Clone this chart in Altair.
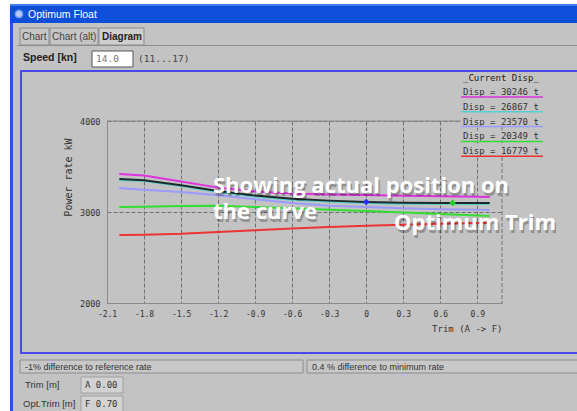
import altair as alt
import pandas as pd

# ---------------------------------------------------------------- data
# Trim positions [m] at which the power-rate curves are tabulated (A -> F)
trim = [-2.0, -1.8, -1.5, -1.2, -0.9, -0.6, -0.3, 0.0, 0.3, 0.6, 0.9, 1.0]

# Power rate [kW] per displacement at 14.0 kn
disp_labels = ["Disp = 30246 t", "Disp = 26867 t", "Disp = 23570 t",
               "Disp = 20349 t", "Disp = 16779 t"]
disp_colors = ["#dd33dd", "#55d0d0", "#9a9aff", "#33dd33", "#ee3333"]
power_30246 = [3418, 3400, 3335, 3268, 3225, 3203, 3193, 3187, 3178, 3172, 3167, 3165]
power_26867 = [3353, 3340, 3285, 3220, 3170, 3135, 3115, 3100, 3092, 3090, 3089, 3089]
power_23570 = [3264, 3245, 3220, 3185, 3140, 3100, 3070, 3055, 3040, 3030, 3024, 3022]
power_20349 = [3055, 3058, 3066, 3068, 3055, 3040, 3025, 3011, 2995, 2978, 2962, 2956]
power_16779 = [2747, 2750, 2760, 2780, 2800, 2818, 2835, 2850, 2860, 2870, 2880, 2883]

# Curve for the current displacement
power_current = [3363, 3350, 3295, 3230, 3180, 3145, 3125, 3110, 3102, 3100, 3099, 3099]

# Actual and optimum trim on the current curve
current_trim, current_power = 0.0, 3110
opt_trim, opt_power = 0.7, 3100

x_ticks = [-2.1, -1.8, -1.5, -1.2, -0.9, -0.6, -0.3, 0.0, 0.3, 0.6, 0.9]
y_ticks = [2000, 3000, 4000]

# ---------------------------------------------------------------- layout
W, H = 577, 411          # window size
OX, OY = 107, 121        # plot origin inside the window
PW, PH = 395, 182        # plot size
GREY = "#c3c3c3"
MONO = "DejaVu Sans Mono"
SANS = "Liberation Sans"

x_enc = alt.X(
    "trim:Q",
    scale=alt.Scale(domain=[-2.1, 1.1], nice=False, zero=False),
    axis=alt.Axis(
        values=x_ticks,
        labelExpr="datum.value == 0 ? '0' : replace(format(datum.value, '.1f'), '\u2212', '-')",
        labelFont=MONO, labelFontSize=8, labelColor="#333333", labelPadding=7,
        labelFlush=False, labelOverlap=False, ticks=False,
        domainColor="#8a8a8a", domainWidth=1,
        grid=True, gridColor="#707070", gridDash=[4, 2], gridWidth=1,
        title="Trim (A -> F)", titleFont=MONO, titleFontSize=9,
        titleFontWeight="normal", titleColor="#333333",
        titleX=PW, titleY=25, titleAlign="right", titleBaseline="middle",
    ),
)
y_enc = alt.Y(
    "power:Q",
    scale=alt.Scale(domain=[2000, 4000], nice=False, zero=False),
    axis=alt.Axis(
        values=y_ticks, format="d",
        labelFont=MONO, labelFontSize=8.5, labelColor="#333333", labelPadding=7,
        labelFlush=False, labelOverlap=False, ticks=False,
        domainColor="#8a8a8a", domainWidth=1,
        grid=True, gridColor="#707070", gridDash=[4, 2], gridWidth=1,
        title="Power rate   kW", titleFont=MONO, titleFontSize=10,
        titleFontWeight="normal", titleColor="#333333",
        titleX=-39, titleY=56, titleAngle=270,
        titleAlign="center", titleBaseline="middle",
    ),
)


def rects(rows):
    """Flat window decorations given in window pixel coordinates."""
    df = pd.DataFrame(rows, columns=["x1", "y1", "x2", "y2", "fill", "stroke", "sw"])
    df[["x1", "x2"]] -= OX
    df[["y1", "y2"]] -= OY
    return alt.Chart(df).mark_rect().encode(
        x=alt.X("x1:Q", scale=None, axis=None), x2="x2",
        y=alt.Y("y1:Q", scale=None, axis=None), y2="y2",
        fill=alt.Fill("fill:N", scale=None),
        stroke=alt.Stroke("stroke:N", scale=None),
        strokeWidth=alt.StrokeWidth("sw:Q", scale=None),
    )


def label(x, y, text, **kw):
    kw.setdefault("align", "left")
    kw.setdefault("baseline", "middle")
    return alt.Chart(pd.DataFrame({"t": [text]})).mark_text(**kw).encode(
        x=alt.value(x - OX), y=alt.value(y - OY), text="t:N")


T = "transparent"
layers = []

# window frame, title bar, tabs, input fields
layers.append(rects([
    (0, 0, W, 4, "#ffffff", T, 0),
    (0, 0, 10, H, "#ffffff", T, 0),
    (10, 4, W, 23, "#0d4fd8", T, 0),
    (10, 4, W, 6, "#3f7cf0", T, 0),
    (10, 23, 13, H, "#2b50e2", T, 0),
    (17, 45, W, 46, "#8e8e8e", T, 0),
    (20, 28, 49, 45, "#c6c6c6", "#8c8c8c", 1),
    (50, 28, 98, 45, "#c6c6c6", "#8c8c8c", 1),
    (99, 28, 144, 45, "#cfcfcf", "#8c8c8c", 1),
    (92, 51, 133, 67, "#ffffff", "#555555", 1),
    (20, 360, 303, 373, "#c8c8c8", "#8c8c8c", 1),
    (307, 360, 590, 373, "#c8c8c8", "#8c8c8c", 1),
    (81, 377, 123, 393, "#d2d2d2", "#a0a0a0", 1),
    (81, 396, 123, 412, "#d2d2d2", "#a0a0a0", 1),
    (21, 71, 600, 353, T, "#4848ee", 2),
]))
layers.append(
    alt.Chart(pd.DataFrame({"k": [0]})).mark_point(
        filled=True, shape="circle", size=55, color="#ffffff",
        stroke="#8fb4ff", strokeWidth=1.5
    ).encode(x=alt.value(19 - OX), y=alt.value(14 - OY))
)
layers.append(label(28, 14.5, "Optimum Float", font=SANS, fontSize=10.5, color="#ffffff"))
layers.append(label(22, 37, "Chart", font=SANS, fontSize=10, color="#444444"))
layers.append(label(52, 37, "Chart (alt)", font=SANS, fontSize=10, color="#444444"))
layers.append(label(102, 37, "Diagram", font=SANS, fontSize=10, fontWeight="bold", color="#222222"))
layers.append(label(23, 58, "Speed [kn]", font=SANS, fontSize=10.5, fontWeight="bold", color="#222222"))
layers.append(label(96, 59, "14.0", font=MONO, fontSize=9.5, color="#777777"))
layers.append(label(138, 59, "(11...17)", font=MONO, fontSize=9.5, color="#444444"))
layers.append(label(25, 367, "-1% difference to reference rate", font=SANS, fontSize=9, color="#333333"))
layers.append(label(312, 367, "0.4 % difference to minimum rate", font=SANS, fontSize=9, color="#333333"))
layers.append(label(25, 385, "Trim [m]", font=SANS, fontSize=9.5, color="#333333"))
layers.append(label(85, 385, "A 0.00", font=MONO, fontSize=9, color="#333333"))
layers.append(label(23, 404, "Opt.Trim [m]", font=SANS, fontSize=9.5, color="#333333"))
layers.append(label(85, 404, "F 0.70", font=MONO, fontSize=9, color="#333333"))

# plot frame: solid top edge, dashed right edge
layers.append(alt.Chart(pd.DataFrame({"k": [0]})).mark_rule(color="#8a8a8a", strokeWidth=1).encode(
    x=alt.value(0), x2=alt.value(PW), y=alt.value(0)))
layers.append(alt.Chart(pd.DataFrame({"k": [0]})).mark_rule(color="#707070", strokeWidth=1, strokeDash=[4, 2]).encode(
    x=alt.value(PW), y=alt.value(0), y2=alt.value(PH)))

# power-rate curves, one per displacement, then the current curve on top
series = [
    (power_16779, disp_colors[4]),
    (power_20349, disp_colors[3]),
    (power_23570, disp_colors[2]),
    (power_26867, disp_colors[1]),
    (power_30246, disp_colors[0]),
    (power_current, "#1e2a2a"),
]
for values, col in series:
    df = pd.DataFrame({"trim": trim, "power": values})
    layers.append(alt.Chart(df).mark_line(color=col, strokeWidth=2).encode(x=x_enc, y=y_enc))

# actual and optimum position on the current curve
pos = pd.DataFrame({"trim": [current_trim, opt_trim], "power": [current_power, opt_power],
                    "c": ["#2a2aff", "#22cc22"]})
layers.append(alt.Chart(pos).mark_point(filled=True, shape="diamond", size=45, opacity=1).encode(
    x=x_enc, y=y_enc, color=alt.Color("c:N", scale=None)))

# legend of displacements
leg = pd.DataFrame({"t": disp_labels, "c": disp_colors})
leg["y"] = [92 + 14.8 * i - OY for i in range(len(leg))]
leg["x1"] = 461 - OX
leg["x2"] = 543 - OX
leg["yb1"] = leg["y"] - 6
leg["yb2"] = leg["y"] + 4
leg["yu"] = leg["y"] + 5
layers.append(alt.Chart(leg).mark_rect(color=GREY).encode(
    x=alt.X("x1:Q", scale=None, axis=None), x2="x2",
    y=alt.Y("yb1:Q", scale=None, axis=None), y2="yb2"))
layers.append(alt.Chart(leg).mark_text(align="left", baseline="middle", font=MONO,
                                       fontSize=9, color="#333333").encode(
    x=alt.value(463 - OX), y=alt.Y("y:Q", scale=None, axis=None), text="t:N"))
layers.append(alt.Chart(leg).mark_rule(strokeWidth=1.5).encode(
    x=alt.X("x1:Q", scale=None, axis=None), x2="x2",
    y=alt.Y("yu:Q", scale=None, axis=None),
    color=alt.Color("c:N", scale=None)))
layers.append(label(463, 78, "_Current Disp_", font=MONO, fontSize=9, color="#222222"))

# callouts with a soft drop shadow
notes = [(213, 193, "Showing actual position on"), (213, 219, "the curve"), (394, 230, "Optimum Trim")]
note_style = dict(font="Open Sans", fontSize=22, fontWeight="bold", baseline="alphabetic")
for x, y, t in notes:
    layers.append(label(x + 1.5, y + 2.5, t, color="#000000", opacity=0.25, **note_style))
    layers.append(label(x, y, t, color="#ffffff", **note_style))

chart = alt.layer(*layers).properties(
    width=PW, height=PH,
    autosize=alt.AutoSizeParams(type="none"),
    padding={"left": OX, "top": OY, "right": W - OX - PW, "bottom": H - OY - PH},
    background=GREY,
).configure_view(stroke=None)

chart.save("out.html", embed_options={"renderer": "svg", "actions": False})
